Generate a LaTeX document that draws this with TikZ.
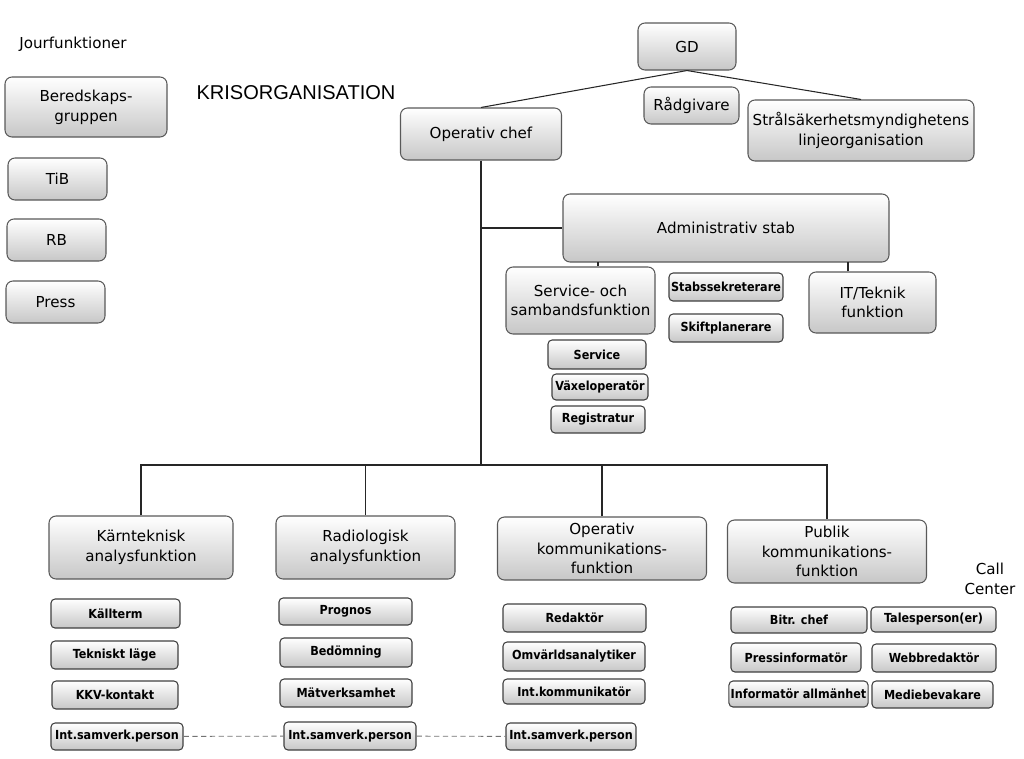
\documentclass[tikz,border=0pt]{standalone}
\usepackage{fontspec}
\setmainfont{DejaVu Sans}
\newfontfamily\condfont{DejaVu Sans Condensed}
\newfontfamily\arialfont{Liberation Sans}
\usetikzlibrary{shadings}

\tikzset{
  orgbox/.style={draw=black!65,line width=.6pt,rounded corners=.14cm,
    top color=white,bottom color=black!22,align=center,inner sep=1pt,
    font=\fontsize{8.6}{11.2}\selectfont},
  subbox/.style={orgbox,draw=black!75,rounded corners=.08cm,
    font=\condfont\bfseries\fontsize{7.1}{8}\selectfont},
  size/.style 2 args={minimum width=#1*0.02cm,minimum height=#2*0.02cm},
  link/.style={draw=black!85,line width=.6pt},
  samverk/.style={draw=black!55,line width=.5pt,densely dashed}
}

\begin{document}
\begin{tikzpicture}[x=0.02cm,y=-0.02cm]
\useasboundingbox (0,0) rectangle (1024,758);
% titles
\node[font=\fontsize{8.6}{11}\selectfont] (jour) at (73,44) {Jourfunktioner};
\node[font=\arialfont\fontsize{11.4}{13}\selectfont] (kris) at (296,93) {KRISORGANISATION};
\node[font=\fontsize{8.6}{11.2}\selectfont,align=center] (call) at (990,579) {Call\\Center};
% jourfunktioner
\node[orgbox,size={162}{60}] (bered) at (86,107) {Beredskaps-\\gruppen};
\node[orgbox,size={99}{42}] (tib) at (57.5,179) {TiB};
\node[orgbox,size={99}{42}] (rb) at (56.5,240) {RB};
\node[orgbox,size={99}{42}] (press) at (55.5,302) {Press};
% ledning
\node[orgbox,size={98}{47}] (gd) at (687,46.5) {GD};
\node[orgbox,size={95}{37}] (radg) at (691.5,105.5) {Rådgivare};
\node[orgbox,size={226}{61}] (ssm) at (861,130.5) {Strålsäkerhetsmyndighetens\\linjeorganisation};
\node[orgbox,size={161}{52}] (opchef) at (481,134) {Operativ chef};
% administrativ stab
\node[orgbox,size={326}{68}] (admin) at (726,228) {Administrativ stab};
\node[orgbox,size={149}{67}] (servsamb) at (580.5,300.5) {Service- och\\sambandsfunktion};
\node[subbox,size={114}{28}] (stabssek) at (726,287) {Stabssekreterare};
\node[subbox,size={114}{28}] (skift) at (726,328) {Skiftplanerare};
\node[orgbox,size={127}{61}] (itek) at (872.5,302.5) {IT/Teknik\\funktion};
\node[subbox,size={98}{29}] (service) at (597,354.5) {Service};
\node[subbox,size={96}{26}] (vaxel) at (600,387) {Växeloperatör};
\node[subbox,size={94}{27}] (regis) at (598,419.5) {Registratur};
% funktioner
\node[orgbox,size={184}{63}] (karn) at (141,547.5) {Kärnteknisk\\analysfunktion};
\node[orgbox,size={179}{63}] (radio) at (365.5,547.5) {Radiologisk\\analysfunktion};
\node[orgbox,size={209}{63}] (opkom) at (602,548.5) {Operativ\\kommunikations-\\funktion};
\node[orgbox,size={199}{63}] (publik) at (827,551.5) {Publik\\kommunikations-\\funktion};
% karnteknisk
\node[subbox,size={129}{29}] (kallterm) at (115.5,613.5) {Källterm};
\node[subbox,size={127}{28}] (teknlage) at (114.5,655) {Tekniskt läge};
\node[subbox,size={126}{28}] (kkv) at (115,695) {KKV-kontakt};
\node[subbox,size={132}{27}] (intA) at (117,736.5) {Int.samverk.person};
% radiologisk
\node[subbox,size={133}{27}] (prognos) at (345.5,611.5) {Prognos};
\node[subbox,size={132}{29}] (bedom) at (346,652.5) {Bedömning};
\node[subbox,size={132}{28}] (matv) at (346,693) {Mätverksamhet};
\node[subbox,size={132}{28}] (intB) at (350,736) {Int.samverk.person};
% operativ kommunikation
\node[subbox,size={143}{28}] (redak) at (574.5,618) {Redaktör};
\node[subbox,size={142}{29}] (omv) at (574,656.5) {Omvärldsanalytiker};
\node[subbox,size={142}{25}] (intkom) at (574,691.5) {Int.kommunikatör};
\node[subbox,size={130}{27}] (intC) at (571,736.5) {Int.samverk.person};
% publik kommunikation
\node[subbox,size={136}{26}] (bitr) at (799,620) {Bitr. chef};
\node[subbox,size={130}{29}] (pressinf) at (796,657.5) {Pressinformatör};
\node[subbox,size={133}{26}] (infall) at (798.5,694) {Informatör allmänhet};
\node[subbox,size={125}{25}] (tales) at (933.5,619.5) {Talesperson(er)};
\node[subbox,size={124}{28}] (webb) at (934,658) {Webbredaktör};
\node[subbox,size={121}{27}] (medie) at (932.5,694.5) {Mediebevakare};
% linjer
\coordinate (bus) at (opchef.south |- 0,465);
\draw[link] (gd.south) -- (opchef.north);
\draw[link] (gd.south) -- (ssm.north);
\draw[link] (opchef.south) -- (bus);
\draw[link] (opchef.south |- admin.west) -- (admin.west);
\draw[link] (servsamb.north -| 598,0) -- (598,262);
\draw[link] (itek.north -| 848,0) -- (848,262);
\draw[link] (karn.north) |- (bus) -| (publik.north);
\draw[link] (radio.north) -- (radio.north |- bus);
\draw[link] (opkom.north) -- (opkom.north |- bus);
\draw[samverk] (intA) -- (intB);
\draw[samverk] (intB) -- (intC);
\end{tikzpicture}
\end{document}
